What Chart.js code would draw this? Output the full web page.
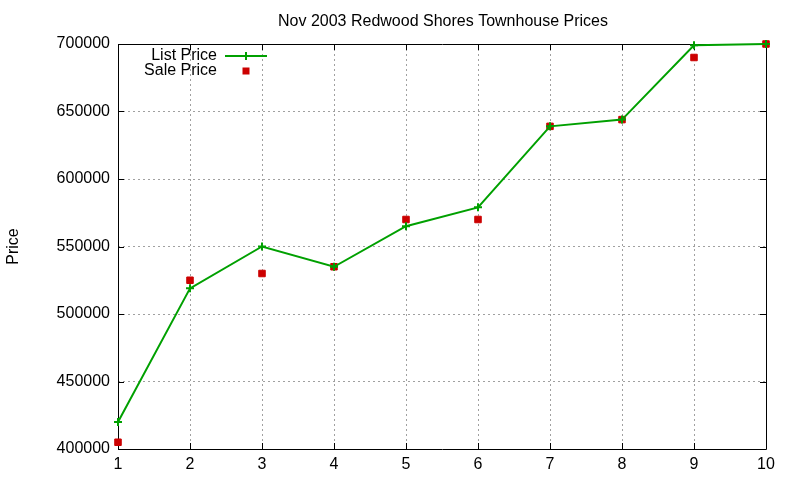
<!DOCTYPE html>
<html>
<head>
<meta charset="utf-8">
<script src="https://cdn.jsdelivr.net/npm/chart.js@4/dist/chart.umd.min.js"></script>
<style>
  html, body { margin: 0; padding: 0; background: #fff; }
  #wrap { width: 800px; height: 480px; }
</style>
</head>
<body>
<div id="wrap"><canvas id="c" width="800" height="480"></canvas></div>
<script>
// values
const units = [1, 2, 3, 4, 5, 6, 7, 8, 9, 10];
const listPrice = [420000, 519000, 550000, 535000, 565000, 579000, 639000, 644000, 699000, 700000];
const salePrice = [405000, 525000, 530000, 535000, 570000, 570000, 639000, 644000, 690000, 700000];
const yTicks = [400000, 450000, 500000, 550000, 600000, 650000, 700000];
const titleText = 'Nov 2003 Redwood Shores Townhouse Prices';

const GREEN = '#00a000';
const RED = '#cc0000';
const FONT = 'Liberation Sans, Arial, sans-serif';

// gnuplot-ish frame: box border and inward ticks on all sides, drawn under the data
const framePlugin = {
  id: 'frame',
  beforeDatasetsDraw(chart) {
    const { ctx, chartArea: a, scales: { x, y } } = chart;
    ctx.save();
    ctx.strokeStyle = '#000';
    ctx.lineWidth = 1;
    ctx.beginPath();
    ctx.rect(a.left + 0.5, a.top + 0.5, a.right - a.left, a.bottom - a.top);
    const t = 6;
    units.forEach(v => {
      const px = Math.round(x.getPixelForValue(v)) + 0.5;
      ctx.moveTo(px, a.bottom); ctx.lineTo(px, a.bottom - t);
      ctx.moveTo(px, a.top); ctx.lineTo(px, a.top + t);
    });
    yTicks.forEach(v => {
      const py = Math.round(y.getPixelForValue(v)) + 0.5;
      ctx.moveTo(a.left, py); ctx.lineTo(a.left + t, py);
      ctx.moveTo(a.right, py); ctx.lineTo(a.right - t, py);
    });
    ctx.stroke();
    ctx.restore();
  },
  afterDatasetsDraw(chart) {
    const { ctx, chartArea: a } = chart;
    ctx.save();
    // title centred over the plot area
    ctx.font = '16px ' + FONT;
    ctx.fillStyle = '#000';
    ctx.textAlign = 'center';
    ctx.textBaseline = 'middle';
    ctx.fillText(titleText, (a.left + a.right) / 2 + 1, 22);

    // key
    ctx.textAlign = 'right';
    const tx = a.left + 99, sx0 = a.left + 107, sx1 = a.left + 149, sc = a.left + 128;
    const r1 = a.top + 12, r2 = a.top + 27;
    ctx.fillText(chart.data.datasets[0].label, tx, r1);
    ctx.fillText(chart.data.datasets[1].label, tx, r2);
    ctx.strokeStyle = GREEN;
    ctx.lineWidth = 2;
    ctx.beginPath();
    ctx.moveTo(sx0, r1); ctx.lineTo(sx1, r1);
    ctx.moveTo(sc, r1 - 4); ctx.lineTo(sc, r1 + 4);
    ctx.stroke();
    ctx.fillStyle = RED;
    ctx.fillRect(sc - 3.5, r2 - 3.5, 7, 7);
    ctx.restore();
  }
};

new Chart(document.getElementById('c'), {
  type: 'line',
  data: {
    datasets: [
      {
        label: 'List Price',
        data: units.map((u, i) => ({ x: u, y: listPrice[i] })),
        borderColor: GREEN,
        backgroundColor: GREEN,
        borderWidth: 2,
        pointStyle: 'cross',
        pointRadius: 4,
        pointBorderWidth: 2,
        tension: 0,
        clip: false
      },
      {
        label: 'Sale Price',
        data: units.map((u, i) => ({ x: u, y: salePrice[i] })),
        showLine: false,
        borderColor: RED,
        backgroundColor: RED,
        pointStyle: 'rect',
        pointRadius: 4.6,
        pointBorderWidth: 1,
        clip: false
      }
    ]
  },
  plugins: [framePlugin],
  options: {
    responsive: false,
    animation: false,
    layout: { padding: { left: 0, right: 34, top: 44, bottom: 0 } },
    plugins: {
      legend: { display: false },
      tooltip: { enabled: false },
      title: { display: false }
    },
    scales: {
      x: {
        type: 'linear',
        min: 1,
        max: 10,
        afterBuildTicks: s => { s.ticks = units.map(v => ({ value: v })); },
        afterFit: s => { s.height = 31; },
        grid: { color: '#a0a0a0', lineWidth: 1, drawTicks: false },
        border: { display: false, dash: [2, 3] },
        ticks: {
          color: '#000', font: { family: FONT, size: 16 }, padding: 6, maxRotation: 0,
          callback: v => String(v)
        }
      },
      y: {
        min: 400000,
        max: 700000,
        afterBuildTicks: s => { s.ticks = yTicks.map(v => ({ value: v })); },
        afterFit: s => { s.width = 118; },
        grid: { color: '#a0a0a0', lineWidth: 1, drawTicks: false },
        border: { display: false, dash: [2, 3] },
        ticks: {
          color: '#000', font: { family: FONT, size: 16 }, padding: 8,
          callback: v => String(v)
        },
        title: {
          display: true,
          text: 'Price',
          color: '#000',
          font: { family: FONT, size: 16 },
          padding: { top: 4, bottom: 0 }
        }
      }
    }
  }
});
</script>
</body>
</html>
